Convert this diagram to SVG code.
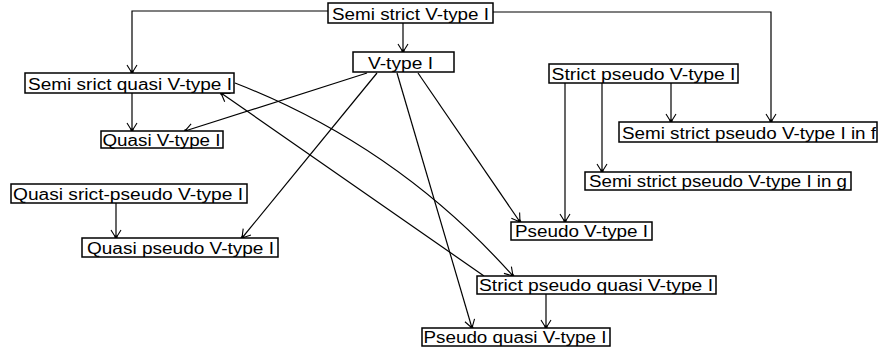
<svg xmlns="http://www.w3.org/2000/svg" width="878" height="351" viewBox="0 0 878 351">
  <style>
    .box { fill: #ffffff; stroke: #000000; stroke-width: 1.5; }
    .lbl { font-family: "Liberation Sans", Arial, sans-serif; font-size: 16px; fill: #000000; }
    .edge { fill: none; stroke: #000000; stroke-width: 1.2; marker-end: url(#arrow); }
  </style>
  <defs>
    <marker id="arrow" markerUnits="userSpaceOnUse" markerWidth="12" markerHeight="12" viewBox="-10 -6 12 12" refX="0" refY="0" orient="auto">
      <path d="M-8,-5 L0,0 L-8,5" fill="none" stroke="#000000" stroke-width="1.1"/>
      <rect x="-2.5" y="-1.5" width="3" height="3" fill="#000000"/>
    </marker>
  </defs>
  <rect width="878" height="351" fill="#ffffff"/>

  <g id="connectors">
    <path class="edge" d="M328,11 H132 V73"/>
    <path class="edge" d="M403,23 V52"/>
    <path class="edge" d="M493,12 H771 V122"/>
    <path class="edge" d="M132,93 V131"/>
    <path class="edge" d="M367,73 L185,131"/>
    <path class="edge" d="M377,73 L242,238"/>
    <path class="edge" d="M397,73 L472,328"/>
    <path class="edge" d="M418,73 L520,222"/>
    <path class="edge" d="M235,83 Q397,146 513,276"/>
    <path class="edge" d="M484,276 L221,93"/>
    <path class="edge" d="M565,83 V222"/>
    <path class="edge" d="M602,83 V172"/>
    <path class="edge" d="M671,83 V122"/>
    <path class="edge" d="M116,203 V238"/>
    <path class="edge" d="M546,294 V328"/>
  </g>

  <g id="semi-strict-v-type">
    <rect class="box" x="328" y="3" width="165" height="20"/>
    <text class="lbl" x="332" y="20" textLength="157" lengthAdjust="spacingAndGlyphs">Semi strict V-type I</text>
  </g>
  <g id="v-type">
    <rect class="box" x="353" y="52" width="101" height="20"/>
    <text class="lbl" x="368" y="69" textLength="65" lengthAdjust="spacingAndGlyphs">V-type I</text>
  </g>
  <g id="semi-strict-quasi-v-type">
    <rect class="box" x="25" y="73" width="209" height="20"/>
    <text class="lbl" x="28" y="90" textLength="204" lengthAdjust="spacingAndGlyphs">Semi srict quasi V-type I</text>
  </g>
  <g id="quasi-v-type">
    <rect class="box" x="101" y="131" width="122" height="17"/>
    <text class="lbl" x="102.5" y="146" textLength="118" lengthAdjust="spacingAndGlyphs">Quasi V-type I</text>
  </g>
  <g id="strict-pseudo-v-type">
    <rect class="box" x="549" y="64" width="189" height="19"/>
    <text class="lbl" x="551.5" y="80" textLength="184" lengthAdjust="spacingAndGlyphs">Strict pseudo V-type I</text>
  </g>
  <g id="semi-strict-pseudo-v-type-f">
    <rect class="box" x="619" y="122" width="258" height="20"/>
    <text class="lbl" x="622" y="139" textLength="254" lengthAdjust="spacingAndGlyphs">Semi strict pseudo V-type I in f</text>
  </g>
  <g id="semi-strict-pseudo-v-type-g">
    <rect class="box" x="585" y="172" width="266" height="18"/>
    <text class="lbl" x="589" y="187" textLength="258" lengthAdjust="spacingAndGlyphs">Semi strict pseudo V-type I in g</text>
  </g>
  <g id="quasi-strict-pseudo-v-type">
    <rect class="box" x="11" y="184" width="236" height="19"/>
    <text class="lbl" x="13" y="200" textLength="230" lengthAdjust="spacingAndGlyphs">Quasi srict-pseudo V-type I</text>
  </g>
  <g id="quasi-pseudo-v-type">
    <rect class="box" x="82" y="238" width="196" height="19"/>
    <text class="lbl" x="87" y="254" textLength="187" lengthAdjust="spacingAndGlyphs">Quasi pseudo V-type I</text>
  </g>
  <g id="pseudo-v-type">
    <rect class="box" x="511" y="222" width="141" height="18"/>
    <text class="lbl" x="515" y="237" textLength="133" lengthAdjust="spacingAndGlyphs">Pseudo V-type I</text>
  </g>
  <g id="strict-pseudo-quasi-v-type">
    <rect class="box" x="477" y="276" width="239" height="18"/>
    <text class="lbl" x="479" y="291" textLength="234" lengthAdjust="spacingAndGlyphs">Strict pseudo quasi V-type I</text>
  </g>
  <g id="pseudo-quasi-v-type">
    <rect class="box" x="422" y="328" width="188" height="18"/>
    <text class="lbl" x="423.5" y="343" textLength="183" lengthAdjust="spacingAndGlyphs">Pseudo quasi V-type I</text>
  </g>
</svg>
